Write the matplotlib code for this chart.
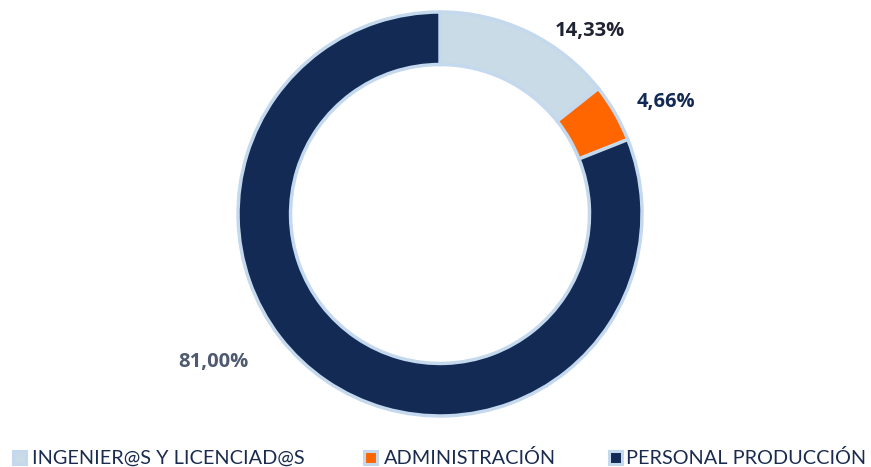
import matplotlib.pyplot as plt
from matplotlib.patches import Rectangle

categorias = ["INGENIER@S Y LICENCIAD@S", "ADMINISTRACIÓN", "PERSONAL PRODUCCIÓN"]
porcentajes = [14.33, 4.66, 81.00]
etiquetas = ["14,33%", "4,66%", "81,00%"]
colores = ["#c9dbe6", "#ff6600", "#132a55"]
borde = "#c5d9ee"

plt.rcParams['font.family'] = ['Lato', 'DejaVu Sans']

fig = plt.figure(figsize=(8.71, 4.67), dpi=100)
ax = fig.add_axes([0.2501, 0.066, 0.5102, 0.9516])

ax.pie(porcentajes, colors=colores, startangle=90, counterclock=False,
       radius=1.0, wedgeprops=dict(width=0.26, edgecolor=borde, linewidth=2.5))
ax.set_xlim(-1.1, 1.1)
ax.set_ylim(-1.1, 1.1)
ax.axis('off')

# etiquetas de porcentaje
pos = [(0.74, 0.905), (1.12, 0.555), (-1.12, -0.735)]
col_txt = ["#1f2333", "#132a55", "#4d5a70"]
for (x, y), t, c in zip(pos, etiquetas, col_txt):
    ax.text(x, y, t, ha='center', va='center', fontsize=14.5, fontweight='bold',
            color=c, family=['Open Sans', 'DejaVu Sans'])

# leyenda (cuadro con borde claro + texto)
leg_cuadro = [13, 364, 609]
leg_texto = [32, 384, 626]
for xc, xt, cat, col in zip(leg_cuadro, leg_texto, categorias, colores):
    fig.patches.append(Rectangle((xc / 871, 3 / 467), 13 / 871, 13 / 467,
                                 transform=fig.transFigure, facecolor=col,
                                 edgecolor=borde, linewidth=2.2))
    fig.text(xt / 871, 9 / 467, cat, ha='left', va='center',
             fontsize=14.3, color="#1a2b4f")

fig.savefig("out.png", dpi=100)
